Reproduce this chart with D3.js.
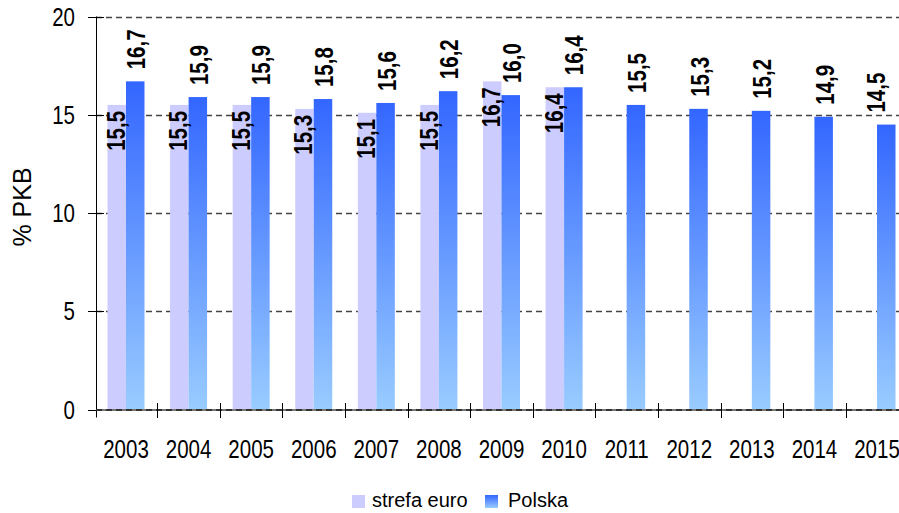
<!DOCTYPE html>
<html>
<head>
<meta charset="utf-8">
<script src="https://cdn.jsdelivr.net/npm/d3@7"></script>
<style>
body { margin: 0; background: #fff; }
svg { display: block; }
</style>
</head>
<body>
<script>
var width = 899,
    height = 513;

// data
var years = ["2003","2004","2005","2006","2007","2008","2009","2010","2011","2012","2013","2014","2015"];
var euroValues = [15.5, 15.5, 15.5, 15.3, 15.1, 15.5, 16.7, 16.4, null, null, null, null, null];
var polskaValues = [16.7, 15.9, 15.9, 15.8, 15.6, 16.2, 16.0, 16.4, 15.5, 15.3, 15.2, 14.9, 14.5];
var yTicks = [0, 5, 10, 15, 20];
var seriesNames = ["strefa euro", "Polska"];

// narrow fonts are not available, so regular Arial-alike gets squeezed
var font = "'Liberation Sans', Arial, sans-serif";
var squeeze = 0.82;

var svg = d3.select("body").append("svg")
    .attr("width", width)
    .attr("height", height);

var defs = svg.append("defs");
var grad = defs.append("linearGradient")
    .attr("id", "polskaGrad")
    .attr("x1", 0).attr("y1", 0)
    .attr("x2", 0).attr("y2", 1);
grad.append("stop").attr("offset", "0%").attr("stop-color", "#3366ff");
grad.append("stop").attr("offset", "100%").attr("stop-color", "#99ccff");

var x = d3.scaleBand()
    .domain(years)
    .range([94.7, 908.3])
    .paddingInner(0)
    .paddingOuter(0);

var y = d3.scaleLinear()
    .domain([0, 20])
    .range([409.5, 16.5]);

var barW = 18.5;

// gridlines
svg.append("g")
    .selectAll("line")
    .data(yTicks.filter(function(d){ return d > 0; }))
    .enter().append("line")
    .attr("x1", 96).attr("x2", width)
    .attr("y1", function(d){ return Math.round(y(d)) + 0.5; })
    .attr("y2", function(d){ return Math.round(y(d)) + 0.5; })
    .attr("stroke", "#444")
    .attr("stroke-width", 1.3)
    .attr("stroke-dasharray", "6,4");

// euro bars
svg.append("g")
    .selectAll("rect")
    .data(years.filter(function(d, i){ return euroValues[i] != null; }))
    .enter().append("rect")
    .attr("x", function(d){ return x(d) + x.bandwidth()/2 - barW; })
    .attr("width", barW)
    .attr("y", function(d){ return y(euroValues[years.indexOf(d)]); })
    .attr("height", function(d){ return y(0) - y(euroValues[years.indexOf(d)]); })
    .attr("fill", "#ccccff");

// polska bars
svg.append("g")
    .selectAll("rect")
    .data(years)
    .enter().append("rect")
    .attr("x", function(d){ return x(d) + x.bandwidth()/2; })
    .attr("width", barW)
    .attr("y", function(d, i){ return y(polskaValues[i]); })
    .attr("height", function(d, i){ return y(0) - y(polskaValues[i]); })
    .attr("fill", "url(#polskaGrad)");

function fmt(v) { return d3.format(".1f")(v).replace(".", ","); }

// euro labels (inside end)
svg.append("g")
    .selectAll("text")
    .data(years.filter(function(d, i){ return euroValues[i] != null; }))
    .enter().append("text")
    .attr("transform", function(d){
        var cx = x(d) + x.bandwidth()/2 - barW/2 + 8;
        var cy = y(euroValues[years.indexOf(d)]) + 6;
        return "translate(" + cx + "," + cy + ")rotate(-90)scale(" + squeeze + ",1)";
    })
    .attr("text-anchor", "end")
    .style("font-family", font)
    .style("font-weight", "bold")
    .style("font-size", "25px")
    .attr("fill", "#000")
    .text(function(d){ return fmt(euroValues[years.indexOf(d)]); });

// polska labels (outside end), kept inside the picture on the right
svg.append("g")
    .selectAll("text")
    .data(years)
    .enter().append("text")
    .attr("transform", function(d, i){
        var cx = Math.min(x(d) + x.bandwidth()/2 + barW/2 + 10, width - 14);
        var cy = y(polskaValues[i]) - 12;
        return "translate(" + cx + "," + cy + ")rotate(-90)scale(" + squeeze + ",1)";
    })
    .attr("text-anchor", "start")
    .style("font-family", font)
    .style("font-weight", "bold")
    .style("font-size", "25px")
    .attr("fill", "#000")
    .text(function(d, i){ return fmt(polskaValues[i]); });

// y axis
svg.append("line")
    .attr("x1", 96.5).attr("x2", 96.5)
    .attr("y1", y(20)).attr("y2", y(0) + 8)
    .attr("stroke", "#000");

svg.append("g")
    .selectAll("line")
    .data(yTicks)
    .enter().append("line")
    .attr("x1", 88).attr("x2", 104)
    .attr("y1", function(d){ return Math.round(y(d)) + 0.5; })
    .attr("y2", function(d){ return Math.round(y(d)) + 0.5; })
    .attr("stroke", "#000");

svg.append("g")
    .selectAll("text")
    .data(yTicks)
    .enter().append("text")
    .attr("transform", function(d){
        return "translate(75," + (y(d) + 9) + ")scale(" + squeeze + ",1)";
    })
    .attr("text-anchor", "end")
    .style("font-family", font)
    .style("font-size", "25px")
    .text(function(d){ return d; });

// x axis
svg.append("line")
    .attr("x1", 96).attr("x2", width)
    .attr("y1", 410).attr("y2", 410)
    .attr("stroke", "#777")
    .attr("stroke-width", 2);
svg.append("line")
    .attr("x1", 96).attr("x2", width)
    .attr("y1", 410).attr("y2", 410)
    .attr("stroke", "#333")
    .attr("stroke-width", 2)
    .attr("stroke-dasharray", "6,4");

svg.append("g")
    .selectAll("line")
    .data(years.slice(1))
    .enter().append("line")
    .attr("x1", function(d){ return Math.round(x(d)) + 0.5; })
    .attr("x2", function(d){ return Math.round(x(d)) + 0.5; })
    .attr("y1", 403).attr("y2", 418)
    .attr("stroke", "#000");

svg.append("g")
    .selectAll("text")
    .data(years)
    .enter().append("text")
    .attr("transform", function(d){
        return "translate(" + (x(d) + x.bandwidth()/2) + ",458)scale(" + squeeze + ",1)";
    })
    .attr("text-anchor", "middle")
    .style("font-family", font)
    .style("font-size", "25px")
    .text(function(d){ return d; });

// y title
svg.append("text")
    .attr("transform", "translate(31,207)rotate(-90)")
    .attr("text-anchor", "middle")
    .style("font-family", font)
    .style("font-size", "25px")
    .text("% PKB");

// legend
var legend = svg.append("g");
var legX = [352, 485];
var legTextX = [372, 508];
legend.selectAll("rect")
    .data(seriesNames)
    .enter().append("rect")
    .attr("x", function(d, i){ return legX[i]; })
    .attr("y", 495)
    .attr("width", 13)
    .attr("height", 13)
    .attr("fill", function(d, i){ return i == 0 ? "#ccccff" : "url(#polskaGrad)"; });
legend.selectAll("text")
    .data(seriesNames)
    .enter().append("text")
    .attr("x", function(d, i){ return legTextX[i]; })
    .attr("y", 507)
    .style("font-family", font)
    .style("font-size", "20px")
    .text(function(d){ return d; });
</script>
</body>
</html>
